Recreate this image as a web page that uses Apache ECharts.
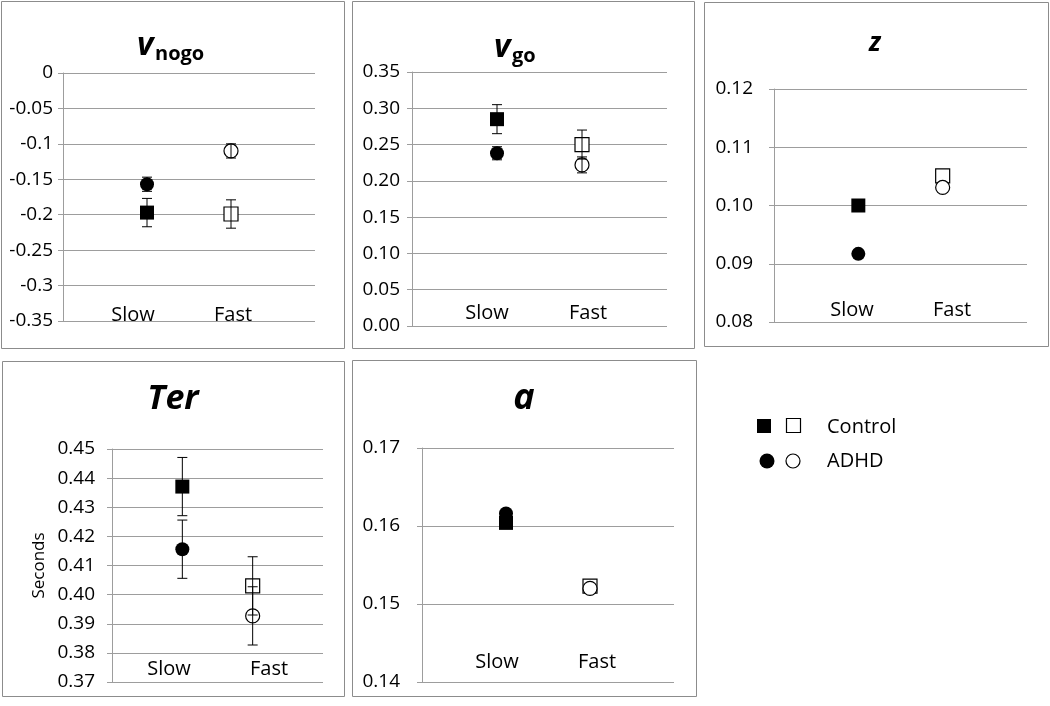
<!DOCTYPE html>
<html>
<head>
<meta charset="utf-8">
<script src="https://cdn.jsdelivr.net/npm/echarts@6/dist/echarts.min.js"></script>
<style>
html,body{margin:0;padding:0;background:#fff;}
#main{width:1050px;height:706px;}
</style>
</head>
<body>
<div id="main"></div>
<script>
// ---------- data ----------
const categories = ['Slow', 'Fast'];
const groups = ['Control', 'ADHD'];

// v_nogo
const vnogoControl = [-0.197, -0.199];
const vnogoControlErr = [0.020, 0.020];
const vnogoADHD = [-0.157, -0.110];
const vnogoADHDErr = [0.010, 0.010];
const vnogoTicks = ['-0.35', '-0.3', '-0.25', '-0.2', '-0.15', '-0.1', '-0.05', '0'];

// v_go
const vgoControl = [0.285, 0.250];
const vgoControlErr = [0.020, 0.020];
const vgoADHD = [0.238, 0.222];
const vgoADHDErr = [0.009, 0.011];
const vgoTicks = ['0.00', '0.05', '0.10', '0.15', '0.20', '0.25', '0.30', '0.35'];

// z
const zControl = [0.1000, 0.1051];
const zADHD = [0.0917, 0.1031];
const zTicks = ['0.08', '0.09', '0.10', '0.11', '0.12'];

// Ter
const terControl = [0.4371, 0.4030];
const terControlErr = [0.010, 0.010];
const terADHD = [0.4156, 0.3927];
const terADHDErr = [0.010, 0.010];
const terTicks = ['0.37', '0.38', '0.39', '0.40', '0.41', '0.42', '0.43', '0.44', '0.45'];

// a
const aControl = [0.1604, 0.1523];
const aADHD = [0.1616, 0.1520];
const aTicks = ['0.14', '0.15', '0.16', '0.17'];

// ---------- layout ----------
const FONT = 'Open Sans';
const GRID_COLOR = '#9d9d9d';
const panels = [
  {grid:{left:63, top:73, width:252, height:248}, min:-0.35, max:0, interval:0.05, ticks:vnogoTicks, margin:10,
   c:vnogoControl, ce:vnogoControlErr, d:vnogoADHD, de:vnogoADHDErr},
  {grid:{left:412, top:72, width:255, height:254}, min:0, max:0.35, interval:0.05, ticks:vgoTicks, margin:12,
   c:vgoControl, ce:vgoControlErr, d:vgoADHD, de:vgoADHDErr},
  {grid:{left:774, top:89, width:253, height:233}, min:0.08, max:0.12, interval:0.01, ticks:zTicks, margin:21,
   c:zControl, ce:null, d:zADHD, de:null},
  {grid:{left:112, top:449, width:211, height:233}, min:0.37, max:0.45, interval:0.01, ticks:terTicks, margin:17,
   c:terControl, ce:terControlErr, d:terADHD, de:terADHDErr, name:'Seconds'},
  {grid:{left:422, top:448, width:252, height:234}, min:0.14, max:0.17, interval:0.01, ticks:aTicks, margin:22,
   c:aControl, ce:null, d:aADHD, de:null}
];

const grids = [], xAxes = [], yAxes = [], series = [];
const filled = {color:'#000', opacity:1};
const open = {color:'#fff', borderColor:'#000', borderWidth:1.2, opacity:1};
panels.forEach((p, i) => {
  grids.push(Object.assign({show:false}, p.grid));
  xAxes.push({
    type:'category', gridIndex:i, data:['', ...categories, ''], boundaryGap:false,
    axisLine:{show:false}, axisTick:{show:false}, axisLabel:{show:false}, splitLine:{show:false}
  });
  yAxes.push({
    type:'value', gridIndex:i, min:p.min, max:p.max, interval:p.interval,
    axisLine:{show:true, lineStyle:{color:GRID_COLOR, width:1}},
    axisTick:{show:true, length:5, lineStyle:{color:GRID_COLOR, width:1}},
    splitLine:{show:true, lineStyle:{color:GRID_COLOR, width:1}},
    axisLabel:{
      margin:p.margin, color:'#000', fontFamily:FONT, fontSize:19,
      formatter:(v) => p.ticks[Math.round((v - p.min) / p.interval)]
    },
    name:p.name || '', nameLocation:'middle', nameRotate:90, nameGap:64,
    nameTextStyle:{color:'#000', fontFamily:FONT, fontSize:17}
  });
  // Control: squares (filled for Slow, open for Fast)
  series.push({
    type:'scatter', name:groups[0], xAxisIndex:i, yAxisIndex:i, z:3,
    symbol:'rect', symbolSize:14,
    data: p.c.map((v, k) => ({value:[categories[k], v], itemStyle: k === 0 ? filled : open}))
  });
  // ADHD: circles
  series.push({
    type:'scatter', name:groups[1], xAxisIndex:i, yAxisIndex:i, z:4,
    symbol:'circle', symbolSize:14,
    data: p.d.map((v, k) => ({value:[categories[k], v], itemStyle: k === 0 ? filled : open}))
  });
  const errSeries = (vals, errs) => ({
    type:'custom', xAxisIndex:i, yAxisIndex:i, z:10, silent:true,
    data: vals.map((v, k) => [k + 1, v, errs[k]]),
    renderItem: (params, api) => {
      const x = api.value(0), y = api.value(1), e = api.value(2);
      const t = api.coord([x, y + e]);
      const b = api.coord([x, y - e]);
      const w = 5;
      const st = {stroke:'#000', lineWidth:1};
      return {type:'group', children:[
        {type:'line', shape:{x1:t[0], y1:t[1], x2:b[0], y2:b[1]}, style:st},
        {type:'line', shape:{x1:t[0]-w, y1:t[1], x2:t[0]+w, y2:t[1]}, style:st},
        {type:'line', shape:{x1:b[0]-w, y1:b[1], x2:b[0]+w, y2:b[1]}, style:st}
      ]};
    }
  });
  if (p.ce) series.push(errSeries(p.c, p.ce));
  if (p.de) series.push(errSeries(p.d, p.de));
});

// ---------- decorations (panel frames, titles, category labels, legend) ----------
const frames = [
  [1, 1, 343, 347], [352, 1, 342, 347], [704, 2, 344, 344], [2, 361, 342, 335], [352, 360, 344, 336]
];
const graphic = [];
frames.forEach(f => graphic.push({
  type:'rect', shape:{x:f[0]+0.5, y:f[1]+0.5, width:f[2], height:f[3]},
  style:{fill:'none', stroke:'#8c8c8c', lineWidth:1}, z:-1
}));
const txt = (x, y, text, size, opts) => Object.assign({
  type:'text', x:x, y:y,
  style:Object.assign({text:text, fill:'#000', font:size + 'px "' + FONT + '"', align:'left', verticalAlign:'middle'}, opts || {})
});
// titles
const biFont = (s) => 'italic bold ' + s + 'px "' + FONT + '"';
const bFont = (s) => 'bold ' + s + 'px "' + FONT + '"';
graphic.push({type:'text', x:137, y:46, style:{text:'v', font:biFont(32), fill:'#000', verticalAlign:'middle'}});
graphic.push({type:'text', x:155, y:54, style:{text:'nogo', font:bFont(20), fill:'#000', verticalAlign:'middle'}});
graphic.push({type:'text', x:494, y:48, style:{text:'v', font:biFont(32), fill:'#000', verticalAlign:'middle'}});
graphic.push({type:'text', x:512, y:56, style:{text:'go', font:bFont(20), fill:'#000', verticalAlign:'middle'}});
graphic.push({type:'text', x:875, y:44, style:{text:'z', font:biFont(26), fill:'#000', align:'center', verticalAlign:'middle'}});
graphic.push({type:'text', x:173, y:399, style:{text:'Ter', font:biFont(34), fill:'#000', align:'center', verticalAlign:'middle'}});
graphic.push({type:'text', x:524, y:399, style:{text:'a', font:biFont(36), fill:'#000', align:'center', verticalAlign:'middle'}});
// category labels
const catPos = [[133, 233, 315], [487, 588, 313], [852, 952, 310], [169, 269, 669], [497, 597, 662]];
catPos.forEach(c => {
  graphic.push(txt(c[0], c[2], categories[0], 20, {align:'center'}));
  graphic.push(txt(c[1], c[2], categories[1], 20, {align:'center'}));
});
// legend
graphic.push({type:'rect', shape:{x:757, y:419, width:14, height:14}, style:{fill:'#000'}});
graphic.push({type:'rect', shape:{x:786.5, y:418.5, width:14, height:14}, style:{fill:'#fff', stroke:'#000', lineWidth:1.2}});
graphic.push({type:'circle', shape:{cx:767, cy:461, r:7.5}, style:{fill:'#000'}});
graphic.push({type:'circle', shape:{cx:793, cy:461, r:7}, style:{fill:'#fff', stroke:'#000', lineWidth:1.2}});
graphic.push(txt(827, 427, groups[0], 20));
graphic.push(txt(827, 461, groups[1], 20));

const chart = echarts.init(document.getElementById('main'), null, {renderer:'canvas'});
chart.setOption({
  animation:false,
  backgroundColor:'#fff',
  textStyle:{fontFamily:FONT},
  grid:grids, xAxis:xAxes, yAxis:yAxes, series:series,
  graphic:graphic
});
</script>
</body>
</html>
